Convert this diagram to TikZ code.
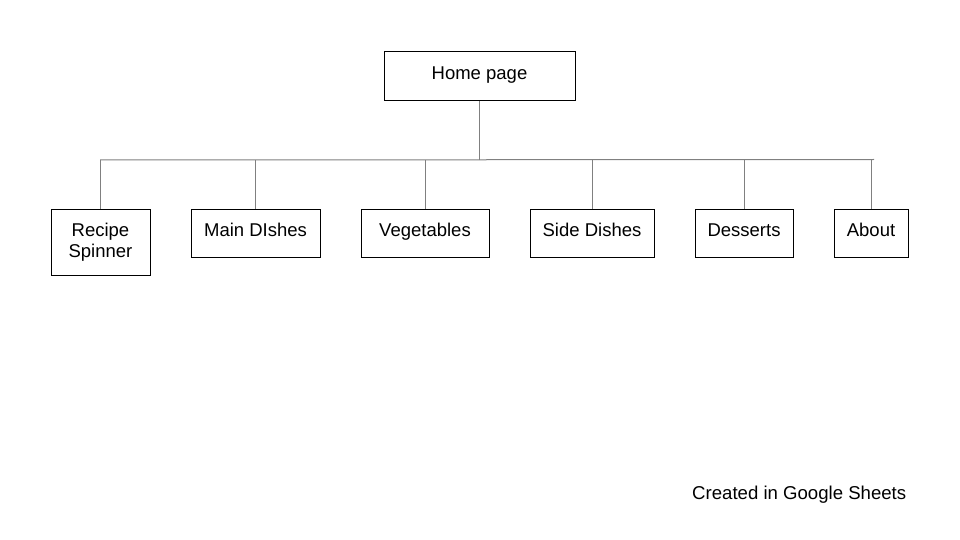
\documentclass[tikz,border=0pt]{standalone}
\usepackage{fontspec}
\setmainfont{Liberation Sans}
\begin{document}
\begin{tikzpicture}[x=1pt,y=-1pt,
  box/.style={draw=black,line width=0.9pt,rectangle,inner sep=0pt,font=\fontsize{18.5}{21}\selectfont,text height=13pt,text depth=6pt},
  box2/.style={draw=black,line width=0.9pt,rectangle,inner sep=0pt,font=\fontsize{18.5}{21}\selectfont,align=center},
  conn/.style={draw=black!50,line width=1pt}]
\useasboundingbox (0,0) rectangle (960,540);
\fill[white] (0,0) rectangle (960,540);
\node[box,minimum width=191pt,minimum height=49pt] (home) at (479.5,76) {Home page};
\node[box2,minimum width=99pt,minimum height=66pt] (recipe) at (100.5,242.5) {Recipe\\Spinner};
\node[box,minimum width=129pt,minimum height=48pt] (main) at (255.5,233) {Main DIshes};
\node[box,minimum width=128pt,minimum height=48pt] (veg) at (425,233) {Vegetables};
\node[box,minimum width=124pt,minimum height=48pt] (side) at (592,233) {Side Dishes};
\node[box,minimum width=98pt,minimum height=48pt] (dess) at (744,233) {Desserts};
\node[box,minimum width=74pt,minimum height=48pt] (about) at (871,233) {About};
\coordinate (barL) at (100,160);
\coordinate (barR) at (874,159.5);
\draw[conn] (barL) -- (barR);
\draw[conn] (home.south) -- (home.south |- barL);
\foreach \n in {recipe,main,veg,side,dess,about}
  \draw[conn] (\n.north) -- (\n.north |- barL);
\node[anchor=base west,inner sep=0pt,font=\fontsize{18.6}{21}\selectfont] (credit) at (692,499) {Created in Google Sheets};
\end{tikzpicture}
\end{document}
